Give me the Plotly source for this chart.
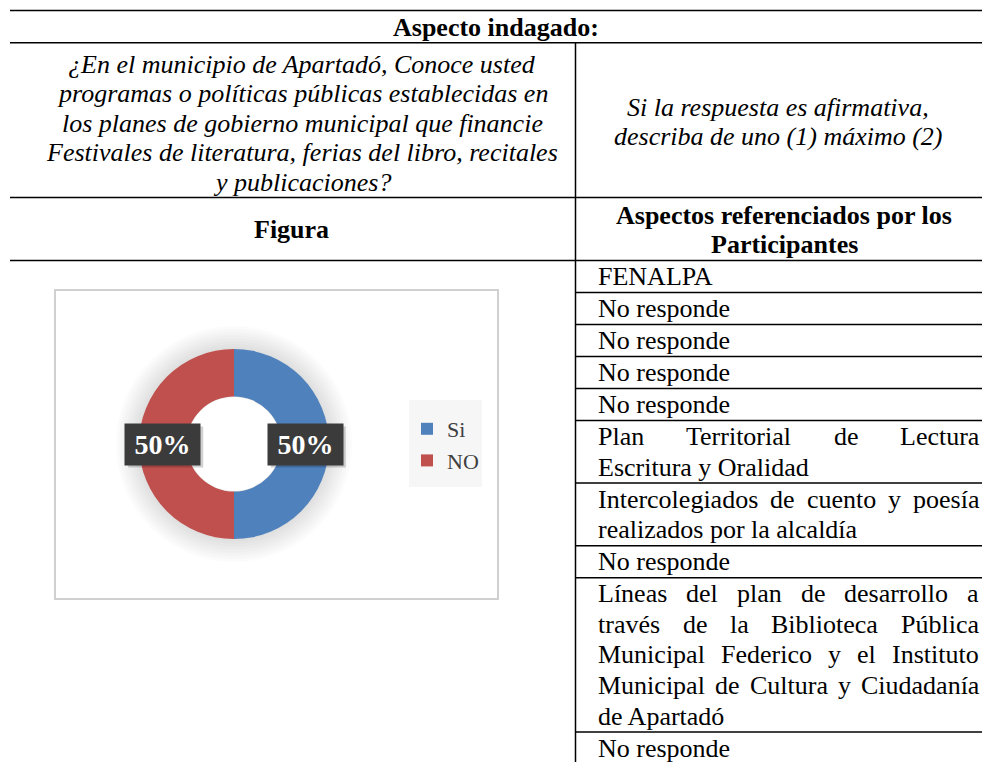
import math
import plotly.graph_objects as go

# ─── Data ─────────────────────────────────────────────────────────────────────
HEADER = "Aspecto indagado:"
QUESTION_LINES = [
    "¿En el municipio de Apartadó, Conoce usted",
    "programas o políticas públicas establecidas en",
    "los planes de gobierno municipal que financie",
    "Festivales de literatura, ferias del libro, recitales",
    "y publicaciones?",
]
FOLLOWUP_LINES = ["Si la respuesta es afirmativa,", "describa de uno (1) máximo (2)"]
LEFT_TITLE = "Figura"
RIGHT_TITLE = ["Aspectos referenciados por los", "Participantes"]

labels = ["Si", "NO"]
values = [50, 50]
colors = ["#4F81BD", "#C0504D"]

answers = [
    ["FENALPA"],
    ["No responde"],
    ["No responde"],
    ["No responde"],
    ["No responde"],
    ["Plan Territorial de Lectura", "Escritura y Oralidad"],
    ["Intercolegiados de cuento y poesía", "realizados por la alcaldía"],
    ["No responde"],
    ["Líneas del plan de desarrollo a", "través de la Biblioteca Pública",
     "Municipal Federico y el Instituto", "Municipal de Cultura y Ciudadanía",
     "de Apartadó"],
    ["No responde"],
]

# ─── Page geometry (pixels) ───────────────────────────────────────────────────
W, H = 982, 762
SERIF = "Liberation Serif, Times New Roman, serif"
FS = 26
COL_X = 575.5
ROW_TOP, LINE_H, CELL_PAD = 260.5, 30.6, 1.4
TXT_L, TXT_R = 597, 978

# Times / Liberation Serif advance widths (1/1000 em)
TIMES = dict(zip("abcdefghijklmnopqrstuvwxyz",
                 [444, 500, 444, 500, 444, 333, 500, 500, 278, 278, 500, 278, 778,
                  500, 500, 500, 500, 333, 389, 278, 500, 500, 722, 500, 500, 444]))
TIMES.update(dict(zip("ABCDEFGHIJKLMNOPQRSTUVWXYZ",
                      [722, 667, 667, 722, 611, 556, 722, 722, 333, 389, 722, 611, 889,
                       722, 722, 556, 722, 667, 556, 611, 722, 722, 944, 722, 722, 611])))
TIMES.update({"á": 444, "é": 444, "í": 278, "ó": 500, "ú": 500, " ": 250})


def px(x):
    return x / W


def py(y):
    return 1 - y / H


def width(s):
    return sum(TIMES.get(c, 500) for c in s) * FS / 1000


fig = go.Figure()

# ─── Donut ────────────────────────────────────────────────────────────────────
CX, CY, R = 234, 444, 95
HOLE = 0.5
fig.add_trace(go.Pie(
    labels=labels, values=values, hole=HOLE, sort=False, direction="clockwise",
    marker=dict(colors=colors, line=dict(width=0)), textinfo="none",
    domain=dict(x=[px(CX - R), px(CX + R)], y=[py(CY + R), py(CY - R)]),
    hoverinfo="label+percent",
))

shapes = []
annots = []


def line(x0, y0, x1, y1, color="black", w=1.5):
    shapes.append(dict(type="line", xref="paper", yref="paper",
                       x0=px(x0), y0=py(y0), x1=px(x1), y1=py(y1),
                       line=dict(color=color, width=w)))


def rect(x0, y0, x1, y1, fill, layer, border=None):
    shapes.append(dict(type="rect", xref="paper", yref="paper", layer=layer,
                       x0=px(x0), y0=py(y1), x1=px(x1), y1=py(y0), fillcolor=fill,
                       line=dict(color=border or fill, width=2 if border else 0)))


def circle(r, fill, layer):
    shapes.append(dict(type="circle", xref="paper", yref="paper", layer=layer,
                       x0=px(CX - r), x1=px(CX + r), y0=py(CY + r), y1=py(CY - r),
                       line=dict(width=0), fillcolor=fill))


def text(x, y, s, anchor="center", size=FS, bold=False, italic=False, color="black"):
    annots.append(dict(xref="paper", yref="paper", x=px(x), y=py(y), text=s,
                       showarrow=False, xanchor=anchor, yanchor="middle", borderpad=0,
                       font=dict(family=SERIF, size=size, color=color,
                                 weight="bold" if bold else "normal",
                                 style="italic" if italic else "normal")))


# chart frame, soft shadow and legend background
rect(55, 290, 498, 599, "white", "below", border="#D0D0D0")
for r in range(97, 121, 3):
    circle(r, "rgba(0,0,0,0.014)", "below")
circle(R * HOLE - 0.5, "white", "above")
rect(409, 400, 482, 487, "#F6F6F6", "below")

# percentage labels in dark boxes, mid-ring of each slice
total = sum(values)
acc = 0
r_mid = R * (1 + HOLE) / 2
BOX_W, BOX_H = 75, 41
for v in values:
    ang = (acc + v / 2) / total * 2 * math.pi
    acc += v
    lx = CX + r_mid * math.sin(ang)
    rect(lx - BOX_W / 2 + 3, CY - BOX_H / 2 + 3, lx + BOX_W / 2 + 3, CY + BOX_H / 2 + 3,
         "rgba(0,0,0,0.18)", "above")
    annots.append(dict(xref="paper", yref="paper", x=px(lx), y=py(CY),
                       xanchor="center", yanchor="middle",
                       text=f"{v / total * 100:.0f}%", showarrow=False,
                       width=BOX_W, height=BOX_H, bgcolor="#3B3B3B", borderpad=0,
                       font=dict(family=SERIF, size=28, color="white", weight="bold")))

# ─── Table rules ──────────────────────────────────────────────────────────────
for y in (10.5, 42.7, 197.5, ROW_TOP):
    line(10, y, W, y)
line(COL_X, 42.7, COL_X, H)

# ─── Header texts ─────────────────────────────────────────────────────────────
text(496, 27, HEADER, bold=True)
for i, s in enumerate(QUESTION_LINES):
    text(302, 64 + i * 29.6, s, italic=True)
for i, s in enumerate(FOLLOWUP_LINES):
    text(778, 107 + i * 30, s, italic=True)
text(291, 229, LEFT_TITLE, bold=True)
for i, s in enumerate(RIGHT_TITLE):
    text(784, 215 + i * 29.5, s, bold=True)

# ─── Answers column (justified like the source document) ─────────────────────
top = ROW_TOP
for para in answers:
    for k, s in enumerate(para):
        yc = top + CELL_PAD / 2 + (k + 0.5) * LINE_H
        words = s.split(" ")
        if k < len(para) - 1 and len(words) > 1:
            gap = (TXT_R - TXT_L - sum(width(w) for w in words)) / (len(words) - 1)
            x = TXT_L
            for w in words:
                text(x, yc, w, anchor="left")
                x += width(w) + gap
        else:
            text(TXT_L, yc, s, anchor="left")
    top += len(para) * LINE_H + CELL_PAD
    if top < H:
        line(COL_X, top, W, top)

fig.update_layout(
    width=W, height=H,
    margin=dict(l=0, r=0, t=0, b=0),
    paper_bgcolor="white", plot_bgcolor="white",
    shapes=shapes, annotations=annots,
    showlegend=True,
    legend=dict(x=px(407), y=py(445), xanchor="left", yanchor="middle",
                bgcolor="rgba(0,0,0,0)", font=dict(family=SERIF, size=22, color="#404040"),
                itemclick=False),
)

fig.write_html("out.html", config={"displayModeBar": False},
               post_script="document.body.style.margin='0';")
